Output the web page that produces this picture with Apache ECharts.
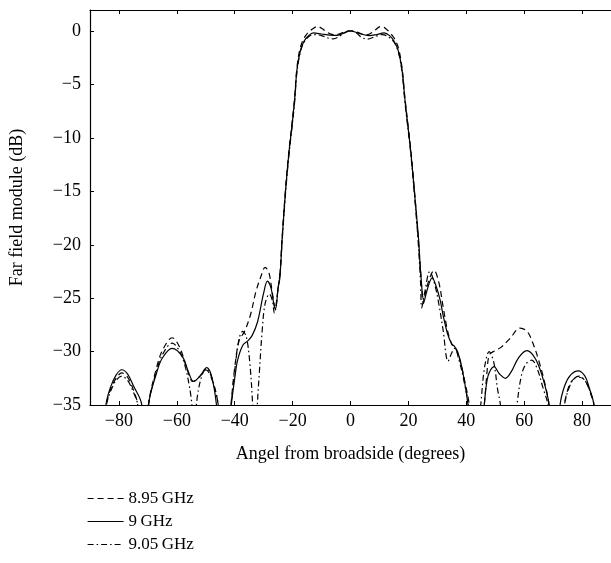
<!DOCTYPE html>
<html>
<head>
<meta charset="utf-8">
<script src="https://cdn.jsdelivr.net/npm/echarts@6/dist/echarts.min.js"></script>
<style>html,body{margin:0;padding:0;background:#fff}#c{width:611px;height:563px}</style>
</head>
<body>
<div id="c"></div>
<script>
// ---- data ----
const xTicks = [-80, -60, -40, -20, 0, 20, 40, 60, 80];
const yTicks = [-35, -30, -25, -20, -15, -10, -5, 0];
const seriesNames = ['8.95\u2009GHz', '9\u2009GHz', '9.05\u2009GHz'];

const angles895 = [-88,-84.3,-83,-81,-79,-77,-75,-73.5,-71.5,-69.8,-67,-65,-61.6,-59,-56.5,-54.5,-52,-50,-48,-45.7,-43.5,-41.3,-40,-38.5,-36.6,-34.5,-32.7,-31,-29.5,-28.2,-27,-26,-25,-24.4,-23.6,-22.4,-21.2,-20.2,-19.3,-18.5,-17.3,-15.5,-13,-11.5,-10,-8,-6,-4,-2,0,2,4,6,8,10.4,12,13.5,15,16.5,17.8,18.8,19.8,20.8,22,23.3,24.3,25.2,26.3,28.9,30.5,32,33.5,35,36.5,38,39.5,41,43,46.2,47.2,48,50,52,55,58.6,61,63,65,67,68.6,71,73.9,75.5,77,79,81,82.8,84.1,86];
const db895 = [-45,-35,-33.6,-32.5,-32.0,-32.4,-33.6,-35,-42,-35,-31.5,-29.9,-28.7,-29.6,-31.6,-32.8,-32.3,-31.7,-32.5,-35,-42,-35,-31.5,-29.0,-28.1,-26.5,-24.4,-23,-22.1,-22.6,-24.5,-26.0,-24,-22.8,-19.2,-14.6,-11,-8.6,-6.2,-3.4,-1.5,-0.4,0.25,0.45,0.3,-0.1,-0.3,-0.25,-0.05,0.05,-0.05,-0.25,-0.3,0,0.45,0.3,-0.1,-0.6,-1.5,-3.4,-6.2,-8.6,-11,-14.6,-19,-22.8,-25.5,-24,-22.4,-23.5,-25.8,-28.0,-29.3,-29.8,-31,-32.8,-35,-42,-35,-31.8,-30.3,-29.9,-29.6,-28.8,-27.8,-28.1,-29.2,-30.8,-32.8,-35,-42,-35,-33.2,-32.6,-32.4,-32.7,-33.8,-35,-42];

const angles9 = [-88,-84.5,-83,-81,-79,-77,-75,-72.1,-71,-69.8,-67,-65,-61.6,-58,-56,-54.2,-52,-49.7,-48,-46.3,-44,-41.2,-40,-39,-37.2,-35.5,-34,-32.1,-30,-28.7,-27.5,-26.5,-25.9,-25,-24.4,-23.6,-22.4,-21.2,-20.2,-19.3,-18.5,-17.3,-16,-14.5,-12.8,-10,-7,-4.9,-2.5,0,2.5,6.5,9,11.6,13.5,15,16.5,17.8,18.8,19.8,20.8,22,23.5,24.3,25.4,26.5,28.2,29.5,31,32,33.5,35,35.9,37,38.5,40.6,43.3,46.2,47.5,49.6,51.5,53.5,55.5,58,60.9,63,65,67,68.6,70.5,72.4,74,76,78.7,81,82.5,84.1,86];
const db9 = [-45,-35,-33.4,-32.2,-31.7,-32.1,-33.2,-35,-42,-35,-32,-30.6,-29.7,-30.5,-31.9,-32.8,-32.3,-31.5,-32.3,-35,-42,-35,-32.5,-30.8,-29.4,-29.0,-28.5,-27.2,-24.5,-23.4,-24,-25.5,-26.0,-24,-23.1,-19.4,-14.8,-11.2,-8.8,-6.4,-3.6,-1.8,-0.9,-0.4,-0.15,-0.25,-0.35,-0.37,-0.2,0.05,-0.15,-0.4,-0.3,-0.15,-0.4,-0.9,-1.8,-3.6,-6.4,-8.8,-11.2,-14.8,-19.4,-22.8,-25.3,-24.2,-23.1,-23.8,-25.2,-26.6,-28.3,-29.3,-29.5,-30.0,-31.5,-35,-42,-35,-32.3,-31.4,-32.1,-32.5,-31.9,-30.6,-29.9,-30.3,-31.3,-33,-35,-42,-35,-33.2,-32.2,-31.8,-32.3,-33.4,-35,-42];

const angles905 = [-88,-84.3,-83,-81,-79,-77,-75,-73.5,-71.5,-69.8,-67,-65,-61.6,-59,-57,-55.5,-54,-52.5,-51,-49.7,-48,-45.7,-43.5,-41.2,-40,-38.5,-37.2,-36,-34.8,-33.8,-33,-32.2,-31.5,-30.5,-29.5,-28,-27,-26.3,-25,-24.3,-23.6,-22.4,-21.2,-20.2,-19.3,-18.5,-17.3,-16,-14.5,-12.8,-10,-7.5,-6,-4,-2,0,2,4,6,8,11,13,15,16.5,17.8,18.8,19.8,20.8,22,23.3,24.2,24.6,25.6,27.4,29,30.5,32,33.7,35,36,37.5,39,40.7,42.5,45,46.3,47.9,49.5,50.8,51.8,54.5,57.5,59,60.5,62.6,64.5,66.5,68.2,70.5,73.9,75.5,77,79,81,82.8,84.1,86];
const db905 = [-45,-35,-33.8,-32.7,-32.3,-32.7,-33.8,-35,-42,-35,-31.8,-30.3,-29.2,-30,-31.5,-33.5,-36,-33.5,-32,-31.6,-32.4,-35,-42,-35,-31.8,-28.8,-28.1,-28.6,-31,-35,-40,-35,-32,-28,-25.5,-24.6,-25.2,-26.4,-24,-22.5,-19.6,-15,-11.4,-9,-6.6,-3.8,-1.9,-1.0,-0.5,-0.3,-0.4,-0.65,-0.7,-0.5,-0.1,0.05,-0.15,-0.6,-0.72,-0.55,-0.3,-0.5,-1.0,-1.9,-3.8,-6.6,-9,-11.4,-15,-19.4,-23.5,-25.9,-24.5,-22.5,-23.6,-25.5,-28,-30.9,-30.1,-29.7,-30.8,-32.5,-35,-42,-35,-31.5,-30.0,-31,-33.5,-35,-42,-35,-32.3,-31.2,-30.8,-31.6,-33.4,-35,-42,-35,-33.4,-32.6,-32.3,-32.7,-33.8,-35,-42];

function zip(xs, ys) { return xs.map((x, i) => [x, ys[i]]); }

const FONT = 'Liberation Serif';
const chart = echarts.init(document.getElementById('c'), null, { renderer: 'canvas' });

const lineBase = { type: 'line', showSymbol: false, symbol: 'none', smooth: 0.35, clip: true, color: '#000',
  itemStyle: { color: '#000', opacity: 0 } };

chart.setOption({
  animation: false,
  backgroundColor: '#fff',
  textStyle: { fontFamily: FONT, color: '#000' },
  grid: { left: 86, top: 10, width: 529, height: 395, containLabel: false, show: false },
  legend: {
    orient: 'vertical', left: 82, top: 485, itemWidth: 36, itemHeight: 12, itemGap: 6,
    itemStyle: { opacity: 0, borderWidth: 0 },
    lineStyle: { width: 1.2 },
    textStyle: { fontFamily: FONT, fontSize: 17, color: '#000' },
    data: seriesNames
  },
  xAxis: [{
    type: 'value', min: -90, max: 90, position: 'bottom',
    name: 'Angel from broadside (degrees)', nameLocation: 'middle', nameGap: 40,
    nameTextStyle: { fontFamily: FONT, fontSize: 18, color: '#000' },
    axisLine: { show: true, onZero: false, lineStyle: { color: '#000', width: 1.2 } },
    axisTick: { show: true, inside: true, length: 4, customValues: xTicks, lineStyle: { color: '#000' } },
    axisLabel: { customValues: xTicks, fontFamily: FONT, fontSize: 18, color: '#000', margin: 7,
      formatter: v => (v < 0 ? '\u2212' + Math.abs(v) : String(v)) },
    splitLine: { show: false }
  }, {
    type: 'value', min: -90, max: 90, position: 'top',
    axisLine: { show: true, onZero: false, lineStyle: { color: '#000', width: 1.2 } },
    axisTick: { show: true, inside: true, length: 4, customValues: xTicks, lineStyle: { color: '#000' } },
    axisLabel: { show: false }, splitLine: { show: false }
  }],
  yAxis: [{
    type: 'value', min: -35, max: 2, position: 'left',
    name: 'Far field module (dB)', nameLocation: 'middle', nameGap: 64, nameRotate: 90,
    nameTextStyle: { fontFamily: FONT, fontSize: 18, color: '#000' },
    axisLine: { show: true, onZero: false, lineStyle: { color: '#000', width: 1.2 } },
    axisTick: { show: true, inside: true, length: 4, customValues: yTicks, lineStyle: { color: '#000' } },
    axisLabel: { customValues: yTicks, fontFamily: FONT, fontSize: 18, color: '#000', margin: 9,
      formatter: v => (v < 0 ? '\u2212' + Math.abs(v) : String(v)) },
    splitLine: { show: false }
  }],
  series: [
    Object.assign({}, lineBase, { name: seriesNames[0], data: zip(angles895, db895),
      lineStyle: { color: '#000', width: 1.2, type: [6, 4] } }),
    Object.assign({}, lineBase, { name: seriesNames[1], data: zip(angles9, db9),
      lineStyle: { color: '#000', width: 1.2, type: 'solid' } }),
    Object.assign({}, lineBase, { name: seriesNames[2], data: zip(angles905, db905),
      lineStyle: { color: '#000', width: 1.2, type: [6, 3, 1.5, 3] } })
  ]
});
</script>
</body>
</html>
